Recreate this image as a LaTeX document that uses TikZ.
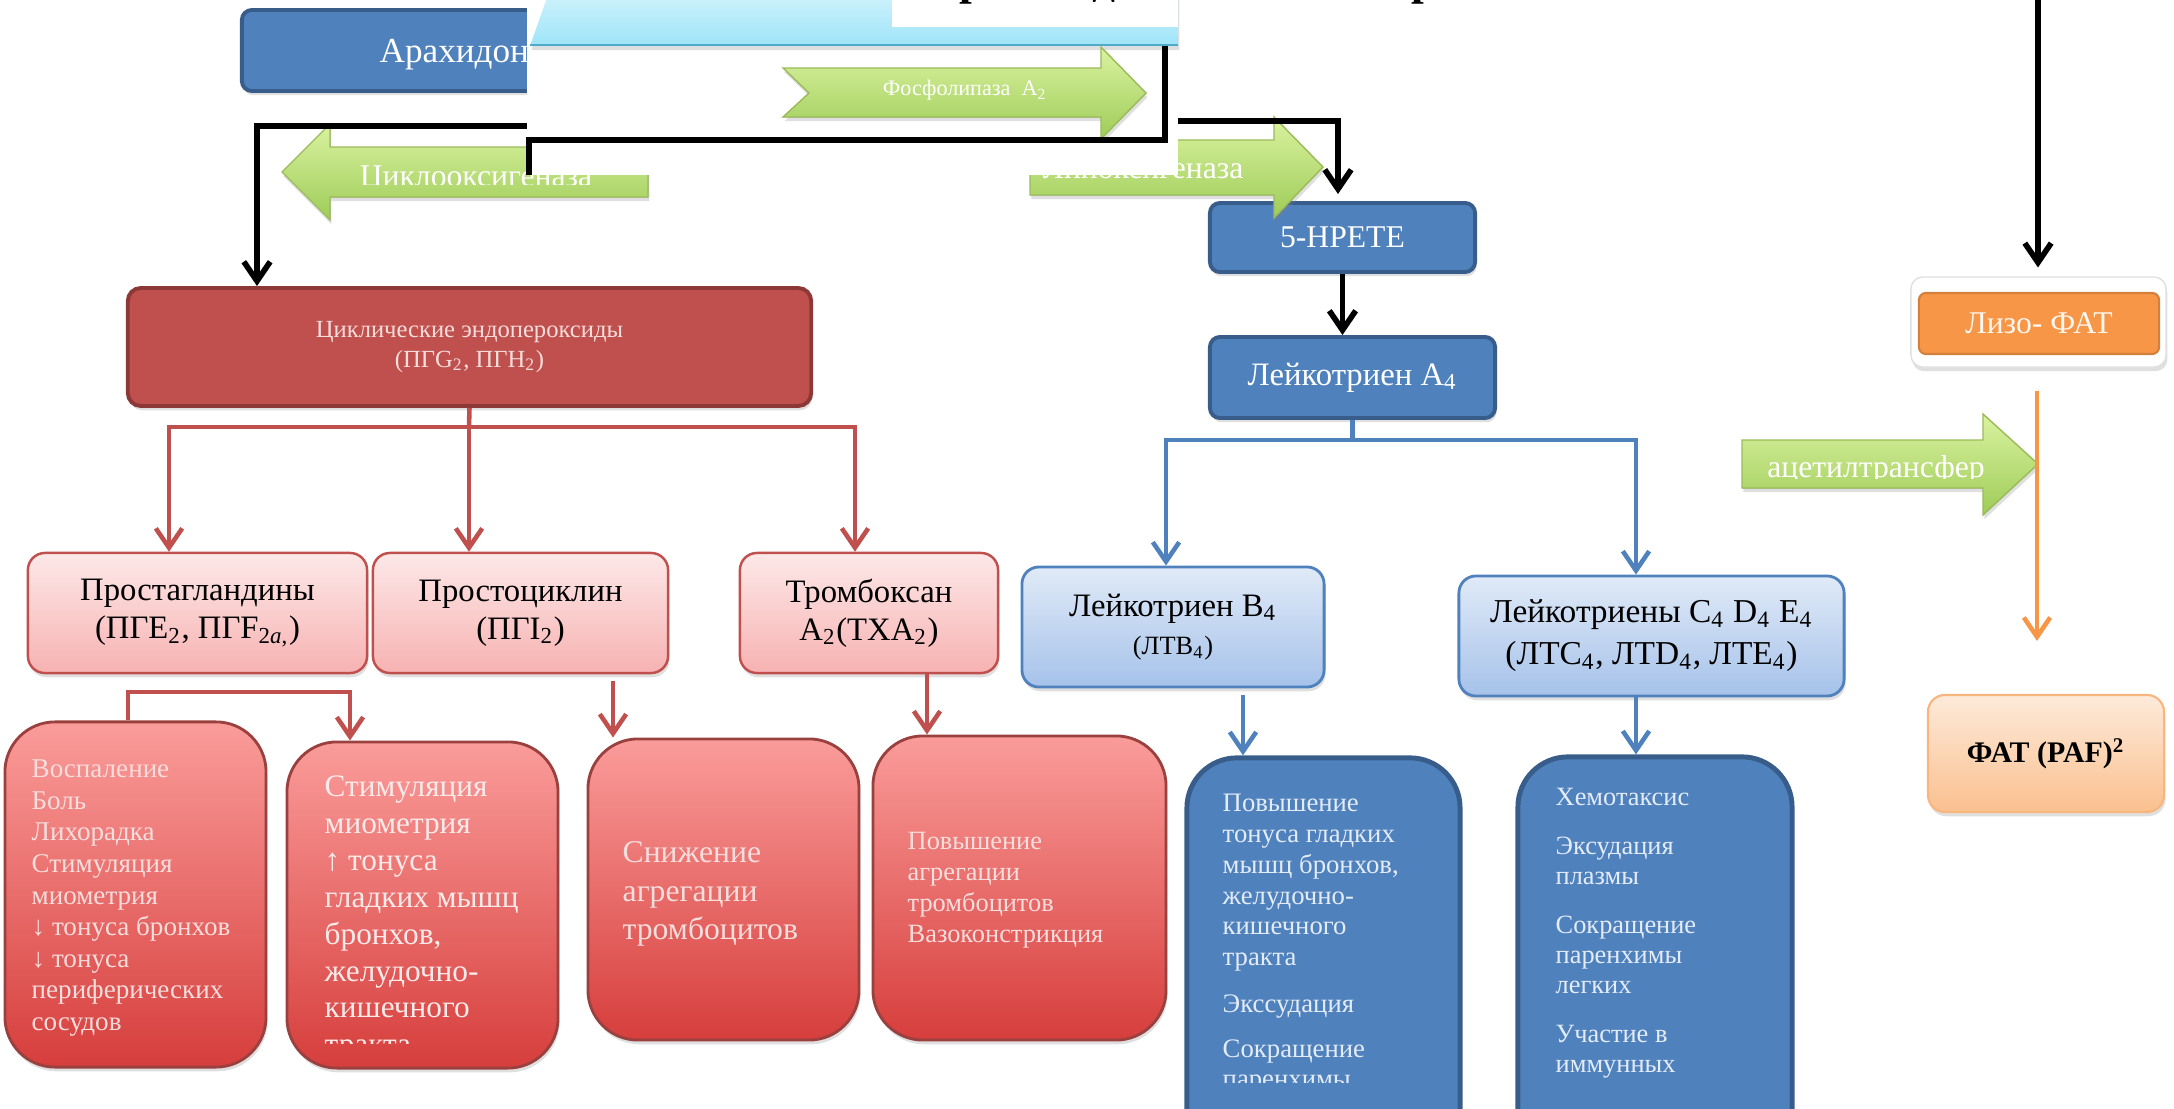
\documentclass[tikz,border=0pt]{standalone}
\usepackage{fontspec}
\setmainfont{Liberation Serif}
\usetikzlibrary{positioning,arrows.meta,shadows}

\definecolor{darkblue}{RGB}{79,129,189}
\definecolor{darkblueln}{RGB}{56,93,138}
\definecolor{endored}{RGB}{192,80,77}
\definecolor{endoredln}{RGB}{140,56,54}
\definecolor{pinktop}{RGB}{253,232,232}
\definecolor{pinkbot}{RGB}{247,178,178}
\definecolor{salmtop}{RGB}{250,156,154}
\definecolor{salmbot}{RGB}{214,62,60}
\definecolor{lbluetop}{RGB}{224,234,247}
\definecolor{lbluebot}{RGB}{166,194,234}
\definecolor{limetop}{RGB}{218,242,160}
\definecolor{limebot}{RGB}{158,204,88}
\definecolor{limeln}{RGB}{155,187,89}
\definecolor{skytop}{RGB}{205,242,252}
\definecolor{skybot}{RGB}{158,228,248}
\definecolor{skyln}{RGB}{80,170,200}
\definecolor{orng}{RGB}{247,150,70}
\definecolor{peachtop}{RGB}{253,234,218}
\definecolor{peachbot}{RGB}{250,192,143}
\definecolor{palepink}{RGB}{246,222,221}
\definecolor{paleblue}{RGB}{228,236,247}

\begin{document}
\begin{tikzpicture}[x=0.01cm, y=-0.01cm, font=\fontsize{9.3}{10.8}\selectfont,
  soft/.style={drop shadow={opacity=0.25, shadow xshift=0.4pt, shadow yshift=-1.2pt}},
  dkbox/.style={draw=darkblueln, fill=darkblue, line width=1.1pt, rounded corners=0.1cm, inner sep=0pt, text=white, soft},
  endobox/.style={draw=endoredln, fill=endored, line width=1.1pt, rounded corners=0.13cm, inner sep=0pt, text=palepink, soft},
  pinkbox/.style={draw=endored, top color=pinktop, bottom color=pinkbot, line width=0.7pt, rounded corners=0.17cm, inner sep=0pt, align=center, soft},
  lbbox/.style={draw=darkblue, top color=lbluetop, bottom color=lbluebot, line width=0.8pt, rounded corners=0.17cm, inner sep=0pt, align=center, soft},
  redeff/.style={draw=endored!80!black, top color=salmtop, bottom color=salmbot, line width=0.8pt, rounded corners=0.5cm, inner sep=0pt, soft},
  blueeff/.style={draw=darkblueln, fill=darkblue, line width=1.4pt, rounded corners=0.5cm, inner sep=0pt, soft},
  efftext/.style={anchor=north west, align=left, inner sep=0pt},
  enzyme/.style={draw=limeln, line width=0.4pt, top color=limetop, bottom color=limebot, soft},
  enztext/.style={anchor=base, inner sep=0pt, text=white, font=\fontsize{9}{10}\selectfont},
  titlebit/.style={anchor=base, inner sep=0pt, font=\fontsize{13}{15}\selectfont\bfseries},
  barb/.style={-{Straight Barb[length=5.5pt,width=7.5pt]}},
  blk/.style={draw=black, line width=1.6pt},
  redln/.style={draw=endored, line width=1.3pt},
  blueln/.style={draw=darkblue, line width=1.3pt},
  orgln/.style={draw=orng, line width=1.3pt}]

  \useasboundingbox (0,0) rectangle (2174,1109);

  % cyclooxygenase branch
  \node[endobox, minimum width=6.83cm, minimum height=1.18cm, align=center, font=\fontsize{7}{8.5}\selectfont] (endo) at (469.5,347) {Циклические эндопероксиды\\(ПГG\textsubscript{2}, ПГH\textsubscript{2})};
  \node[pinkbox, minimum width=3.39cm, minimum height=1.2cm] (prost) at (197.5,613) {Простагландины\\(ПГЕ\textsubscript{2}, ПГF\textsubscript{2\textit{a},})};
  \node[pinkbox, minimum width=2.95cm, minimum height=1.2cm] (cyclin) at (520.5,613) {Простоциклин\\(ПГI\textsubscript{2})};
  \node[pinkbox, minimum width=2.58cm, minimum height=1.2cm] (thromb) at (869,613) {Тромбоксан\\A\textsubscript{2}(TXA\textsubscript{2})};

  \node[redeff, minimum width=2.61cm, minimum height=3.45cm] (eff1) at (135.5,894.5) {};
  \node[efftext, text=palepink, font=\fontsize{7.7}{9}\selectfont] (eff1txt) at (31,759) {Воспаление\\Боль\\Лихорадка\\Стимуляция\\миометрия\\↓ тонуса бронхов\\↓ тонуса\\периферических\\сосудов};
  \node[redeff, minimum width=2.71cm, minimum height=3.26cm] (eff2) at (422.5,905) {};
  \begin{scope}
    \clip (287,742) rectangle (558,1043);
    \node[efftext, text=palepink!60!white, font=\fontsize{8.9}{10.5}\selectfont] (eff2txt) at (324,775) {Стимуляция\\миометрия\\↑ тонуса\\гладких мышц\\бронхов,\\желудочно-\\кишечного\\тракта};
  \end{scope}
  \node[redeff, minimum width=2.71cm, minimum height=3.01cm] (eff3) at (723.5,889.5) {};
  \node[efftext, text=palepink, font=\fontsize{9}{10.95}\selectfont] (eff3txt) at (622,841) {Снижение\\агрегации\\тромбоцитов};
  \node[redeff, minimum width=2.93cm, minimum height=3.04cm] (eff4) at (1019.5,888) {};
  \node[efftext, text=palepink, font=\fontsize{7.5}{8.8}\selectfont] (eff4txt) at (907,832) {Повышение\\агрегации\\тромбоцитов\\Вазоконстрикция};

  % lipoxygenase branch
  \node[dkbox, minimum width=2.65cm, minimum height=0.69cm, font=\fontsize{9}{11}\selectfont] (hpete) at (1342.5,237.5) {5-HPETE};
  \node[dkbox, minimum width=2.85cm, minimum height=0.81cm] (lta4) at (1352.5,377.5) {Лейкотриен A\textsubscript{4}};
  \node[lbbox, minimum width=3.02cm, minimum height=1.2cm] (ltb4) at (1173,627) {Лейкотриен B\textsubscript{4}\\{\fontsize{7.5}{9}\selectfont(ЛТВ\textsubscript{4})}};
  \node[lbbox, minimum width=3.85cm, minimum height=1.2cm, font=\fontsize{9.5}{12}\selectfont] (ltc4) at (1651.5,636) {Лейкотриены C\textsubscript{4} D\textsubscript{4} E\textsubscript{4}\\(ЛТС\textsubscript{4}, ЛТD\textsubscript{4}, ЛТЕ\textsubscript{4})};

  \node[blueeff, minimum width=2.73cm, minimum height=4.42cm] (eff5) at (1323.5,979) {};
  \begin{scope}
    \clip (1187,758) rectangle (1460,1082);
    \node[efftext, text=paleblue, font=\fontsize{7.6}{8.8}\selectfont] (eff5txt) at (1222,793) {Повышение\\тонуса гладких\\мышц бронхов,\\желудочно-\\кишечного\\тракта\\[4.3pt]Экссудация\\[4pt]Сокращение\\паренхимы};
  \end{scope}
  \node[blueeff, minimum width=2.74cm, minimum height=4.43cm] (eff6) at (1655,978.5) {};
  \node[efftext, text=paleblue, font=\fontsize{7.5}{8.5}\selectfont] (eff6txt) at (1555,788) {Хемотаксис\\[5.4pt]Эксудация\\плазмы\\[5.4pt]Сокращение\\паренхимы\\легких\\[5.4pt]Участие в\\иммунных};

  % PAF column
  \node[draw=black!12, fill=white, rounded corners=0.12cm, minimum width=2.55cm, minimum height=0.9cm, soft] (lizoframe) at (2038.5,322) {};
  \node[fill=orng, draw=orng!85!black, line width=0.6pt, rounded corners=0.07cm, minimum width=2.4cm, minimum height=0.61cm, inner sep=0pt, text=white!92!orng, font=\fontsize{9}{11}\selectfont] (lizo) at (2039,323.5) {Лизо- ФАТ};
  \node[draw=orng!70, top color=peachtop, bottom color=peachbot, line width=0.6pt, rounded corners=0.17cm, minimum width=2.36cm, minimum height=1.17cm, inner sep=0pt, font=\fontsize{8.5}{10}\selectfont\bfseries, soft] (paf) at (2046,753.5) {ФАТ (PAF)\textsuperscript{2}};

  % coloured connectors
  \coordinate (rbus) at (469,427);
  \draw[redln] (endo.south) -- (rbus);
  \draw[redln, barb] (rbus) -| (prost.north -| 169,0);
  \draw[redln, barb] (rbus) -- (rbus |- cyclin.north);
  \draw[redln, barb] (rbus) -| (thromb.north -| 855,0);
  \draw[redln, barb] (eff1.north -| 128,0) -- (128,692) -| (eff2.north -| 350,0);
  \draw[redln, barb, shorten <=2pt] (cyclin.south -| 613,0) -- (eff3.north -| 613,0);
  \draw[redln, barb] (thromb.south -| 927,0) -- (eff4.north -| 927,0);

  \coordinate (bbus) at (lta4.south |- 0,440);
  \draw[blueln] (lta4.south) -- (bbus);
  \draw[blueln, barb] (bbus) -| (ltb4.north -| 1166,0);
  \draw[blueln, barb] (bbus) -| (ltc4.north -| 1636,0);
  \draw[blueln, barb, shorten <=2pt] (ltb4.south -| 1243,0) -- (eff5.north -| 1243,0);
  \draw[blueln, barb] (ltc4.south -| 1636,0) -- (eff6.north -| 1636,0);

  \draw[blk, barb] (hpete.south) -- (hpete.south |- lta4.north);

  % upper block
  \node[dkbox, minimum width=4.8cm, minimum height=0.81cm] (arach) at (482,50.5) {};
  \node[anchor=base west, inner sep=0pt, text=white, font=\fontsize{10}{12}\selectfont] (arachtxt) at (379,62) {Арахидоно};

  \filldraw[enzyme] (282,172) -- (330,124) -- (330,147) -- (648,147) -- (648,197) -- (330,197) -- (330,220) -- cycle;
  \begin{scope}
    \clip (282,100) rectangle (648,184);
    \node[enztext] (cyclotxt) at (476,186) {Циклооксигеназа};
  \end{scope}
  \filldraw[enzyme] (1030,140) -- (1274,140) -- (1274,117) -- (1323,167) -- (1274,218) -- (1274,195) -- (1030,195) -- cycle;
  \node[enztext] (lipotxt) at (1143,178) {Липоксигеназа};

  \coordinate (cyclofrom) at (527,126);
  \coordinate (lipofrom) at (1178,121);
  \draw[blk, barb] (cyclofrom) -- (257,126) -- (endo.north -| 257,0);
  \draw[blk, barb, shorten >=2pt] (lipofrom) -- (1338,121) -- (hpete.north -| 1338,0);

  \fill[white] (527,-5) rectangle (1178,175);
  \path[top color=skytop, bottom color=skybot, soft] (530,46) -- (548,-5) -- (1178,-5) -- (1178,46) -- cycle;
  \draw[skyln, line width=0.7pt] (530,45) -- (1178,45);
  \filldraw[enzyme] (783,68) -- (1101,68) -- (1101,47) -- (1146,93) -- (1101,139) -- (1101,117) -- (783,117) -- (809,93) -- cycle;
  \node[enztext, font=\fontsize{6.3}{7}\selectfont] (phosphotxt) at (965,96) {Фосфолипаза\ \ A\textsubscript{2}};
  \coordinate (skyfoot) at (1165,46);
  \coordinate (coverfoot) at (529,175);
  \draw[blk] (skyfoot) |- (529,140) -- (coverfoot);

  \fill[white] (892,-5) rectangle (1178,27);
  \node[titlebit] (titleA) at (972,-5) {р};
  \node[titlebit] (titleB) at (1104,-5) {д};
  \node[titlebit] (titleC) at (1424,-5) {р};

  % PAF arrows
  \coordinate (pafin) at (2038,-10);
  \draw[blk, barb, shorten >=2.5pt] (pafin) -- (pafin |- lizoframe.north);
  \filldraw[enzyme] (1742,440) -- (1983,440) -- (1983,414) -- (2038,464) -- (1983,515) -- (1983,488) -- (1742,488) -- cycle;
  \begin{scope}
    \clip (1742,400) rectangle (2040,478);
    \node[enztext] (acettxt) at (1876,477) {ацетилтрансфер};
  \end{scope}
  \draw[orgln, barb, shorten <=0.23cm, shorten >=0.53cm] (lizoframe.south -| 2037,0) -- (paf.north -| 2037,0);
\end{tikzpicture}
\end{document}
